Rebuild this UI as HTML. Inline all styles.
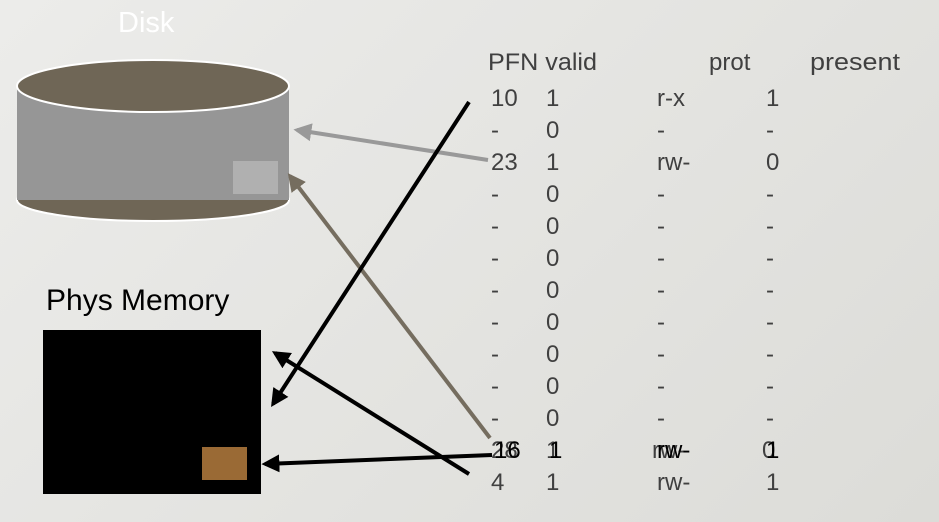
<!DOCTYPE html>
<html><head><meta charset="utf-8"><style>
html,body{margin:0;padding:0;}
body{width:939px;height:522px;overflow:hidden;background:linear-gradient(135deg,#ececea,#dcdcd8);}
svg{display:block}
text{font-family:"Liberation Sans",sans-serif;}
.t{font-size:24px;fill:#404040;}
</style></head><body>
<svg width="939" height="522" viewBox="0 0 939 522">
<defs>
<marker id="ab" viewBox="0 0 10 10" refX="8" refY="5" markerWidth="4.5" markerHeight="4.5" orient="auto"><path d="M0,0 L10,5 L0,10 z" fill="#000"/></marker>
<marker id="ag" viewBox="0 0 10 10" refX="8" refY="5" markerWidth="4.5" markerHeight="4.5" orient="auto"><path d="M0,0 L10,5 L0,10 z" fill="#999"/></marker>
<marker id="ar" viewBox="0 0 10 10" refX="8" refY="5" markerWidth="4.5" markerHeight="4.5" orient="auto"><path d="M0,0 L10,5 L0,10 z" fill="#756d5f"/></marker>
</defs>
<text x="118" y="32" font-size="29" fill="#fff">Disk</text>
<ellipse cx="153" cy="200" rx="136" ry="21" fill="#6f6656" stroke="#fff" stroke-width="2"/>
<rect x="17" y="85" width="272" height="115" fill="#969696"/>
<ellipse cx="153" cy="86" rx="136" ry="26" fill="#6f6656" stroke="#fff" stroke-width="2"/>
<rect x="233" y="161" width="45" height="33" fill="#b0b0b0"/>
<text x="46" y="310" font-size="30" fill="#000">Phys Memory</text>
<rect x="43" y="330" width="218" height="164" fill="#000"/>
<rect x="202" y="447" width="45" height="33" fill="#9a6a35"/>
<g class="t">
<text x="488" y="70" textLength="109" lengthAdjust="spacingAndGlyphs">PFN valid</text>
<text x="709" y="70">prot</text>
<text x="810" y="70" textLength="90" lengthAdjust="spacingAndGlyphs">present</text>
<text x="491" y="106">10</text><text x="546" y="106">1</text><text x="657" y="106">r-x</text><text x="766" y="106">1</text>
<text x="491" y="138">-</text><text x="546" y="138">0</text><text x="657" y="138">-</text><text x="766" y="138">-</text>
<text x="491" y="170">23</text><text x="546" y="170">1</text><text x="657" y="170">rw-</text><text x="766" y="170">0</text>
<text x="491" y="202">-</text><text x="546" y="202">0</text><text x="657" y="202">-</text><text x="766" y="202">-</text>
<text x="491" y="234">-</text><text x="546" y="234">0</text><text x="657" y="234">-</text><text x="766" y="234">-</text>
<text x="491" y="266">-</text><text x="546" y="266">0</text><text x="657" y="266">-</text><text x="766" y="266">-</text>
<text x="491" y="298">-</text><text x="546" y="298">0</text><text x="657" y="298">-</text><text x="766" y="298">-</text>
<text x="491" y="330">-</text><text x="546" y="330">0</text><text x="657" y="330">-</text><text x="766" y="330">-</text>
<text x="491" y="362">-</text><text x="546" y="362">0</text><text x="657" y="362">-</text><text x="766" y="362">-</text>
<text x="491" y="394">-</text><text x="546" y="394">0</text><text x="657" y="394">-</text><text x="766" y="394">-</text>
<text x="491" y="426">-</text><text x="546" y="426">0</text><text x="657" y="426">-</text><text x="766" y="426">-</text>
<text x="491" y="458">28</text><text x="546" y="458">1</text><text x="652" y="458">rw-</text><text x="762" y="458">0</text>
<text x="494" y="458" fill="#000">16</text><text x="549" y="458" fill="#000">1</text><text x="657" y="458" fill="#000">rw-</text><text x="766" y="458" fill="#000">1</text>
<text x="491" y="490">4</text><text x="546" y="490">1</text><text x="657" y="490">rw-</text><text x="766" y="490">1</text>
</g>
<line x1="488" y1="160" x2="297" y2="130" stroke="#999" stroke-width="4" marker-end="url(#ag)"/>
<line x1="490" y1="438" x2="290" y2="176" stroke="#756d5f" stroke-width="4" marker-end="url(#ar)"/>
<line x1="469" y1="102" x2="273" y2="404" stroke="#000" stroke-width="4" marker-end="url(#ab)"/>
<line x1="469" y1="474" x2="275" y2="353" stroke="#000" stroke-width="4" marker-end="url(#ab)"/>
<line x1="492" y1="455" x2="265" y2="464" stroke="#000" stroke-width="4" marker-end="url(#ab)"/>
</svg>
</body></html>
